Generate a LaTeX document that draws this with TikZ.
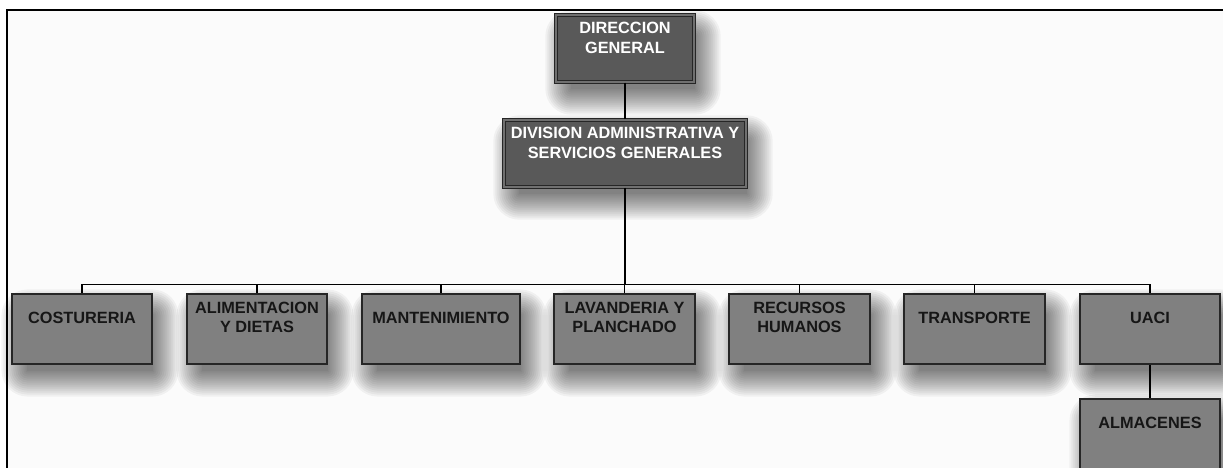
\documentclass[tikz,border=0pt]{standalone}
\usepackage{fontspec}
\setmainfont{Liberation Sans}
\pgfdeclarelayer{bgfill}
\pgfdeclarelayer{shadowlayer}
\pgfsetlayers{bgfill,shadowlayer,main}
\definecolor{darkbox}{HTML}{595959}
\definecolor{midbox}{HTML}{808080}
\definecolor{boxline}{HTML}{262626}
\definecolor{gapline}{HTML}{707070}
\definecolor{txtdark}{HTML}{161616}
\tikzset{
  topbox/.style={rectangle, fill=darkbox, draw=boxline, line width=1.4pt, double=gapline, double distance=1.2pt, minimum height=67pt, inner sep=0pt},
  subbox/.style={rectangle, fill=midbox, draw=boxline, line width=1.1pt, minimum width=140pt, minimum height=70pt, inner sep=0pt},
  toplbl/.style={anchor=center, align=center, text=white, font=\bfseries\fontsize{16.3}{19.5}\selectfont, inner sep=0pt},
  sublbl/.style={anchor=center, align=center, text=txtdark, font=\bfseries\fontsize{16.3}{19.5}\selectfont, inner sep=0pt},
  conn/.style={draw=black, line width=1.3pt},
  frameline/.style={draw=black, line width=1.6pt},
  shadowstep/.style={fill=black, opacity=0.045}
}
\begin{document}
\begin{tikzpicture}[x=1pt,y=-1pt]
\useasboundingbox (0,0) rectangle (1223,468);
\clip (0,0) rectangle (1223,468);
\begin{pgfonlayer}{bgfill}
\fill[white] (0,0) rectangle (1223,468);
\fill[gray!3] (7,10) rectangle (1223,468);
\end{pgfonlayer}

% top boxes
\node[topbox, minimum width=138pt] (dg) at (625,48.5) {};
\node[toplbl] (dgT) at ([yshift=-23.5pt]dg.north) {DIRECCION\\GENERAL};
\node[topbox, minimum width=242pt] (div) at (625,153.5) {};
\node[toplbl] (divT) at ([yshift=-23.5pt]div.north) {DIVISION ADMINISTRATIVA Y\\SERVICIOS GENERALES};

% sub boxes
\node[subbox] (cost) at (82,329) {};
\node[subbox] (alim) at (257,329) {};
\node[subbox, minimum width=158pt] (mant) at (441,329) {};
\node[subbox, minimum width=141pt] (lav) at (624.5,329) {};
\node[subbox, minimum width=141pt] (rec) at (799.5,329) {};
\node[subbox, minimum width=141pt] (trans) at (974.5,329) {};
\node[subbox] (uaci) at (1150,329) {};
\node[subbox] (alm) at (1150,434) {};

\node[sublbl] (costT) at ([yshift=-24pt]cost.north) {COSTURERIA};
\node[sublbl] (alimT) at ([yshift=-24pt]alim.north) {ALIMENTACION\\Y DIETAS};
\node[sublbl] (mantT) at ([yshift=-24pt]mant.north) {MANTENIMIENTO};
\node[sublbl] (lavT) at ([yshift=-24pt]lav.north) {LAVANDERIA Y\\PLANCHADO};
\node[sublbl] (recT) at ([yshift=-24pt]rec.north) {RECURSOS\\HUMANOS};
\node[sublbl] (transT) at ([yshift=-24pt]trans.north) {TRANSPORTE};
\node[sublbl] (uaciT) at ([yshift=-24pt]uaci.north) {UACI};
\node[sublbl] (almT) at ([yshift=-24pt]alm.north) {ALMACENES};

% soft shadows
\begin{pgfonlayer}{shadowlayer}
\foreach \n in {dg,div,cost,alim,mant,lav,rec,trans,uaci,alm}{
  \foreach \k in {0,2,...,26}{
    \fill[shadowstep, rounded corners=\k pt]
      ([shift={(16-\k,22-\k)}]\n.north west) rectangle ([shift={(\k,6+\k)}]\n.south east);
  }
}
\end{pgfonlayer}

% frame
\draw[frameline] (7,470) -- (7,10) -- (1225,10);

% connectors
\coordinate (bus) at (625,284.5);
\draw[conn] (dg.south) -- (div.north);
\draw[conn] (div.south) -- (bus);
\foreach \c in {cost,alim,mant,lav,rec,trans,uaci}{
  \draw[conn] (bus) -| (\c.north);
}
\draw[conn] (uaci.south) -- (alm.north);
\end{tikzpicture}
\end{document}
